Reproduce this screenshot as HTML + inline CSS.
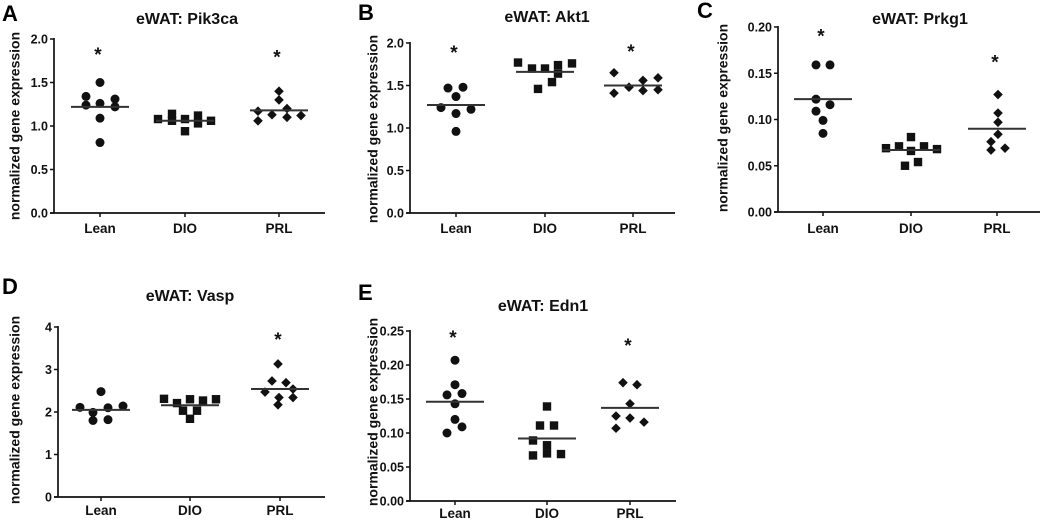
<!DOCTYPE html>
<html><head><meta charset="utf-8">
<style>
html,body{margin:0;padding:0;background:#fff;}
svg{display:block;font-family:"Liberation Sans",Arial,sans-serif;font-weight:bold;}
</style></head>
<body>
<svg id="fig" width="1045" height="522" viewBox="0 0 1045 522" xmlns="http://www.w3.org/2000/svg"></svg>
<script>
const categories = ["Lean","DIO","PRL"];
// Panel A: Pik3ca
const aLean = [1.34,1.24,1.50,1.26,1.09,0.81,1.31,1.22];
const aDIO  = [1.08,1.14,1.06,0.94,1.08,1.12,1.03,1.06];
const aPRL  = [1.17,1.06,1.13,1.40,1.30,1.20,1.10,1.12];
const aMeans = [1.22,1.06,1.18];
const aStars = [1.85,null,1.82];
const aTicks = ["0.0","0.5","1.0","1.5","2.0"];
// Panel B: Akt1
const bLean = [1.24,1.47,1.37,1.17,0.96,1.48,1.22];
const bDIO  = [1.77,1.70,1.46,1.70,1.54,1.74,1.64,1.76];
const bPRL  = [1.65,1.41,1.48,1.56,1.44,1.59,1.45];
const bMeans = [1.27,1.66,1.50];
const bStars = [1.92,null,1.93];
const bTicks = ["0.0","0.5","1.0","1.5","2.0"];
// Panel C: Prkg1
const cLean = [0.159,0.159,0.122,0.109,0.116,0.099,0.085];
const cDIO  = [0.069,0.071,0.081,0.066,0.050,0.054,0.071,0.068];
const cPRL  = [0.127,0.107,0.097,0.084,0.076,0.067,0.069];
const cMeans = [0.122,0.067,0.090];
const cStars = [0.193,null,0.165];
const cTicks = ["0.00","0.05","0.10","0.15","0.20"];
// Panel D: Vasp
const dLean = [2.11,1.99,1.80,2.48,2.10,1.82,2.14];
const dDIO  = [2.31,2.21,2.30,2.27,2.30,2.03,2.03,1.84];
const dPRL  = [3.13,2.73,2.69,2.47,2.54,2.34,2.34,2.17];
const dMeans = [2.05,2.16,2.54];
const dStars = [null,null,3.77];
const dTicks = ["0","1","2","3","4"];
// Panel E: Edn1
const eLean = [0.207,0.171,0.156,0.158,0.143,0.120,0.100,0.109];
const eDIO  = [0.139,0.111,0.111,0.089,0.082,0.067,0.070,0.069];
const ePRL  = [0.174,0.171,0.143,0.125,0.122,0.116,0.107];
const eMeans = [0.146,0.092,0.137];
const eStars = [0.244,null,0.232];
const eTicks = ["0.00","0.05","0.10","0.15","0.20","0.25"];

// jitter offsets (px) for scatter layout
const jit = {
 a:[[-14,-14,0,0,0,0,15,15],[-27,-13,-13,0,0,13,13,26],[-21,-21,-7,0,0,8,8,22]],
 b:[[-15,-8,0,0,0,7,15],[-27,-13,-7,0,7,13,13,27],[-19,-19,-4,10,10,25,25]],
 c:[[-7,7,-7,-7,7,0,0],[-25,-12,0,0,-6,7,13,26],[1,1,1,1,-6,-6,8]],
 d:[[-21,-8,-8,0,7,7,22],[-26,-13,0,13,26,-7,7,0],[-2,-8,6,-15,13,-1,13,-2]],
 e:[[0,0,-8,7,0,0,-8,7],[0,-7,7,-14,0,-14,0,14],[-7,7,0,-14,0,14,-14]]
};

const NS="http://www.w3.org/2000/svg";
const svg=document.getElementById('fig');
function mk(tag,attrs,parent,text){const e=document.createElementNS(NS,tag);for(const k in attrs)e.setAttribute(k,attrs[k]);if(text!==undefined)e.textContent=text;(parent||svg).appendChild(e);return e;}

const panels=[
 {key:'a',letter:'A',title:'eWAT: Pik3ca',lx:2,ly:21,ax:54,ax2:325,yTop:39,yBot:213,max:2.0,cx:[100,185,279],tx:187,ty:24,ylx:16,yly:126,xly:233,groups:[aLean,aDIO,aPRL],means:aMeans,stars:aStars,ticks:aTicks},
 {key:'b',letter:'B',title:'eWAT: Akt1',lx:358,ly:20,ax:410,ax2:675,yTop:43,yBot:213,max:2.0,cx:[456,545,633],tx:547,ty:22,ylx:374,yly:129,xly:233,groups:[bLean,bDIO,bPRL],means:bMeans,stars:bStars,ticks:bTicks},
 {key:'c',letter:'C',title:'eWAT: Prkg1',lx:697,ly:18,ax:778,ax2:1040,yTop:27,yBot:212,max:0.20,cx:[823,911,997],tx:920,ty:24,ylx:724,yly:118,xly:233,groups:[cLean,cDIO,cPRL],means:cMeans,stars:cStars,ticks:cTicks},
 {key:'d',letter:'D',title:'eWAT: Vasp',lx:2,ly:294,ax:58,ax2:325,yTop:327,yBot:497,max:4,cx:[101,190,280],tx:190,ty:301,ylx:16,yly:410,xly:515,groups:[dLean,dDIO,dPRL],means:dMeans,stars:dStars,ticks:dTicks},
 {key:'e',letter:'E',title:'eWAT: Edn1',lx:358,ly:300,ax:410,ax2:676,yTop:331,yBot:501,max:0.25,cx:[455,547,630],tx:543,ty:311,ylx:374,yly:412,xly:518,groups:[eLean,eDIO,ePRL],means:eMeans,stars:eStars,ticks:eTicks}
];

panels.forEach(p=>{
 const g=mk('g',{});
 
 
 const y=v=>p.yBot-(v/p.max)*(p.yBot-p.yTop);
 const L=mk('text',{x:p.lx,y:p.ly,'font-size':22,fill:'#000'},g,p.letter);
 
 const T=mk('text',{x:p.tx,y:p.ty,'font-size':16,'text-anchor':'middle',fill:'#111'},g,p.title);
 
 const YL=mk('text',{x:p.ylx,y:p.yly,'font-size':14,'text-anchor':'middle',fill:'#111',transform:`rotate(-90 ${p.ylx} ${p.yly})`,'dominant-baseline':'middle'},g,'normalized gene expression');
 
 const ya=mk('line',{x1:p.ax,y1:p.yTop-1,x2:p.ax,y2:p.yBot,stroke:'#111','stroke-width':1.7},g);
 
 const xa=mk('line',{x1:p.ax-4,y1:p.yBot,x2:p.ax2,y2:p.yBot,stroke:'#111','stroke-width':1.7},g);
 
 const n=p.ticks.length;
 p.ticks.forEach((t,i)=>{
  const v=p.max*i/(n-1);const yy=y(v);
  mk('line',{x1:p.ax-4,y1:yy,x2:p.ax,y2:yy,stroke:'#111','stroke-width':1.5},g);
  const tl=mk('text',{x:p.ax-6,y:yy+4.5,'font-size':12.5,'text-anchor':'end',fill:'#111'},g,t);
  
 });
 categories.forEach((c,ci)=>{
  const cx=p.cx[ci];
  mk('line',{x1:cx,y1:p.yBot,x2:cx,y2:p.yBot+4,stroke:'#111','stroke-width':1.5},g);
  const cl=mk('text',{x:cx,y:p.xly,'font-size':13.5,'text-anchor':'middle',fill:'#111'},g,c);
  
  p.groups[ci].forEach((v,k)=>{
   const px=cx+(jit[p.key][ci][k]||0),py=y(v);let m;
   if(ci===0)m=mk('circle',{cx:px,cy:py,r:4.5,fill:'#111'},g);
   else if(ci===1)m=mk('rect',{x:px-4.2,y:py-4.2,width:8.4,height:8.4,fill:'#111'},g);
   else m=mk('polygon',{points:`${px},${py-4.8} ${px+4.8},${py} ${px},${py+4.8} ${px-4.8},${py}`,fill:'#111'},g);
   
   
  });
  const my=y(p.means[ci]);
  const ml=mk('line',{x1:cx-29,y1:my,x2:cx+29,y2:my,stroke:'#333','stroke-width':2},g);
  
  
  if(p.stars[ci]!==null){
   const s=mk('text',{x:cx-2,y:y(p.stars[ci])+9,'font-size':19,'text-anchor':'middle',fill:'#111'},g,'*');
   
   
  }
 });
});
</script>
</body></html>
